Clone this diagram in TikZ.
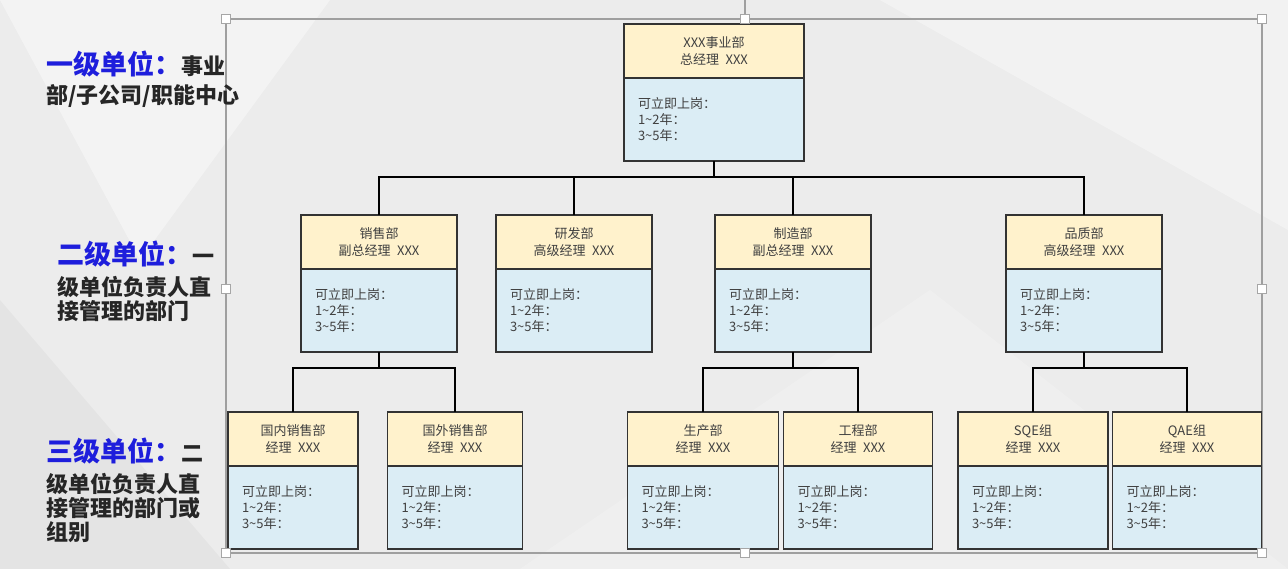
\documentclass[tikz,border=0pt]{standalone}
\usepackage{fontspec}
\setmainfont{Noto Sans CJK SC}
\usepackage{tikz}
\usetikzlibrary{positioning}
\usepackage{xcolor}
\definecolor{headfill}{RGB}{255,242,204}
\definecolor{bodyfill}{RGB}{219,237,245}
\definecolor{lvblue}{RGB}{30,30,220}
\definecolor{bggray}{RGB}{236,236,236}
\tikzstyle{unithead}=[draw=black!80, line width=1.5pt, fill=headfill, minimum height=54pt, inner sep=0pt, outer sep=0pt, align=center, text=black!75, font=\fontsize{13}{17}\selectfont]
\tikzstyle{unitbody}=[draw=black!80, line width=1.5pt, fill=bodyfill, minimum height=83pt, inner xsep=14pt, inner ysep=0pt, outer sep=0pt, align=left, text=black!75, font=\fontsize{13}{16}\selectfont]
\tikzstyle{link}=[line width=1.4pt, black]
\tikzstyle{frameline}=[line width=1.5pt, gray!75]
\tikzstyle{handle}=[draw=gray!70, fill=white, line width=1pt, minimum size=9pt, inner sep=0pt]
\tikzstyle{lvtext}=[align=left, inner sep=0pt, anchor=north west, text=black!85, font=\bfseries\fontsize{22}{24}\selectfont]
\newcommand{\lvHead}[1]{{\color{lvblue}\fontsize{27}{30}\selectfont #1}}
\newcommand{\unitBox}[5]{
	\pgfmathsetmacro{\bodyw}{#3-28}
	\node[unithead, minimum width=#3pt, anchor=north] (#1) at #2 {#4\\#5};
	\node[unitbody, text width=\bodyw pt, below=0pt of #1] (#1b) {可立即上岗：\\1\textasciitilde2年：\\3\textasciitilde5年：};
}

\begin{document}
\begin{tikzpicture}[x=1pt, y=-1pt]
	\useasboundingbox (0,0) rectangle (1288,569);
	\fill[bggray] (0,0) rectangle (1288,569);
	\fill[white, opacity=.4] (0,0) -- (330,0) -- (140,260) -- cycle;
	\fill[white, opacity=.2] (520,569) -- (930,290) -- (1288,569) -- cycle;
	\fill[white, opacity=.35] (880,0) -- (1288,0) -- (1288,230) -- cycle;
	\fill[black, opacity=.03] (0,300) -- (230,569) -- (0,569) -- cycle;

	% selection frame
	\draw[frameline] (226,19) rectangle (1262,553);

	% units
	\unitBox{syb}{(714,24)}{180}{XXX事业部}{总经理\enspace XXX}
	\unitBox{xs}{(379,215)}{156}{销售部}{副总经理\enspace XXX}
	\unitBox{yf}{(574,215)}{156}{研发部}{高级经理\enspace XXX}
	\unitBox{zz}{(793,215)}{156}{制造部}{副总经理\enspace XXX}
	\unitBox{pz}{(1084,215)}{156}{品质部}{高级经理\enspace XXX}
	\unitBox{gn}{(293,412)}{130}{国内销售部}{经理\enspace XXX}
	\unitBox{gw}{(455,412)}{135}{国外销售部}{经理\enspace XXX}
	\unitBox{sc}{(703,412)}{151}{生产部}{经理\enspace XXX}
	\unitBox{gc}{(858,412)}{149}{工程部}{经理\enspace XXX}
	\unitBox{sqe}{(1033,412)}{150}{SQE组}{经理\enspace XXX}
	\unitBox{qae}{(1187,412)}{149}{QAE组}{经理\enspace XXX}

	% links
	\draw[link] (sybb.south) -- ++(0,16) coordinate (j0);
	\foreach \u in {xs,yf,zz,pz}
		\draw[link] (j0) -| (\u.north);
	\draw[link] (xsb.south) -- ++(0,16) coordinate (j1);
	\foreach \u in {gn,gw}
		\draw[link] (j1) -| (\u.north);
	\draw[link] (zzb.south) -- ++(0,16) coordinate (j2);
	\foreach \u in {sc,gc}
		\draw[link] (j2) -| (\u.north);
	\draw[link] (pzb.south) -- ++(0,16) coordinate (j3);
	\foreach \u in {sqe,qae}
		\draw[link] (j3) -| (\u.north);

	% level labels
	\node[lvtext] (lv1) at (46,51) {\lvHead{一级单位：}事业\\[5pt]部/子公司/职能中心};
	\node[lvtext] (lv2) at (57,241) {\lvHead{二级单位：}一\\[7pt]级单位负责人直\\接管理的部门};
	\node[lvtext] (lv3) at (46,438) {\lvHead{三级单位：}二\\[7pt]级单位负责人直\\接管理的部门或\\组别};

	% handles
	\coordinate (rot) at (745,0);
	\foreach \p [count=\i] in {(226,19),(745,19),(1262,19),(226,289),(1262,289),(226,553),(745,553),(1262,553)}
		\node[handle] (h\i) at \p {};
	\draw[frameline] (rot) -- (h2);
\end{tikzpicture}
\end{document}
